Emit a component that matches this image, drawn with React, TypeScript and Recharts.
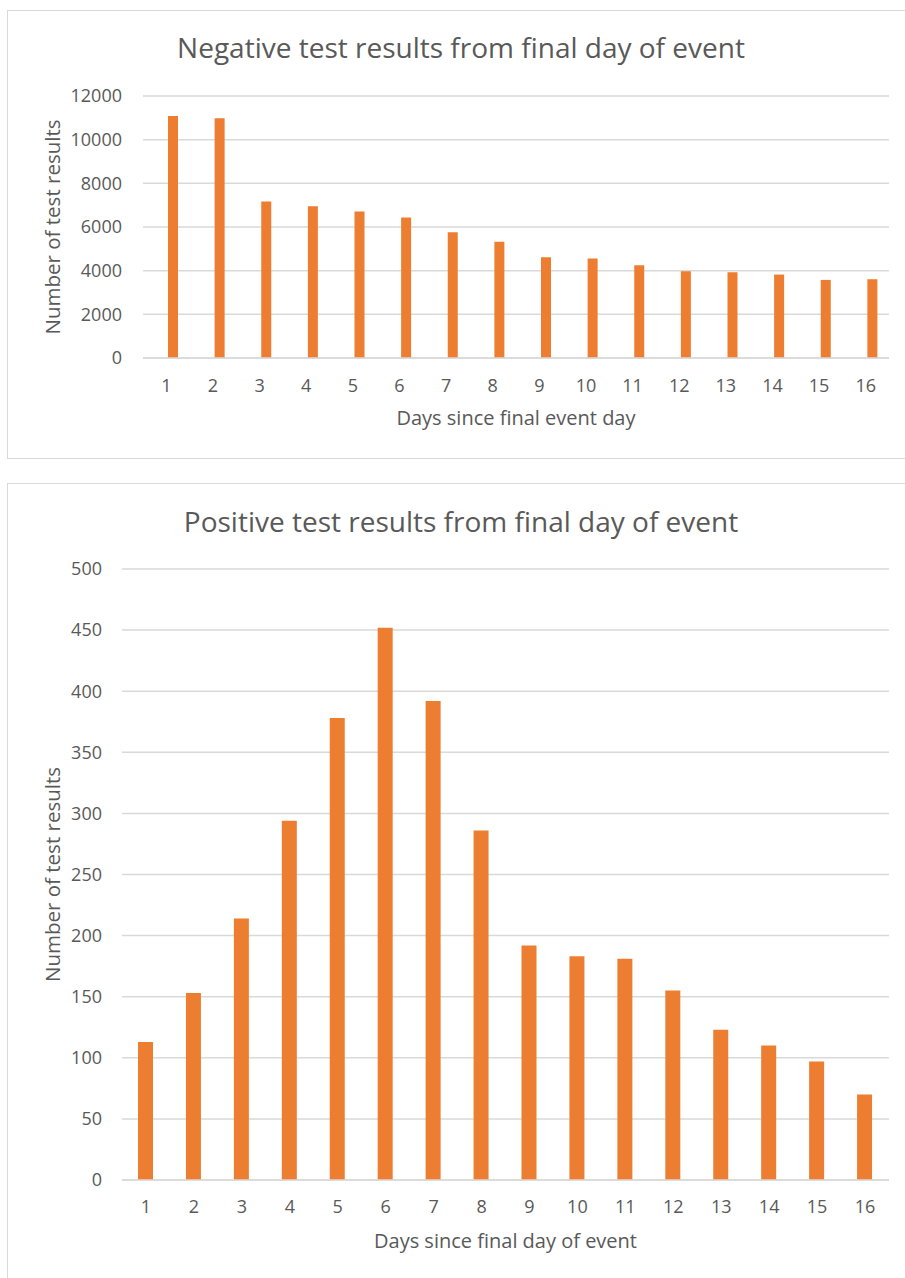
import React from 'react';
import { BarChart, Bar, XAxis, YAxis, CartesianGrid } from 'recharts';

const days = ['1','2','3','4','5','6','7','8','9','10','11','12','13','14','15','16'];
const negativeResults = [11083, 10976, 7169, 6955, 6711, 6436, 5763, 5320, 4617, 4555, 4250, 3975, 3929, 3822, 3577, 3608];
const positiveResults = [113, 153, 214, 294, 378, 452, 392, 286, 192, 183, 181, 155, 123, 110, 97, 70];
const negativeTicks = [0, 2000, 4000, 6000, 8000, 10000, 12000];
const positiveTicks = [0, 50, 100, 150, 200, 250, 300, 350, 400, 450, 500];

const negTitle = 'Negative test results from final day of event';
const posTitle = 'Positive test results from final day of event';
const negXTitle = 'Days since final event day';
const posXTitle = 'Days since final day of event';
const yTitle = 'Number of test results';

const negData = days.map((d, i) => ({ day: d, pad: null, value: negativeResults[i] }));
const posData = days.map((d, i) => ({ day: d, value: positiveResults[i] }));

const FONT = '"Open Sans", sans-serif';
const TEXT = '#595959';
const GRID = '#d9d9d9';
const ORANGE = '#ED7D31';

const tickStyle = { fill: TEXT, fontSize: 18, fontFamily: FONT };

const XTitle = (text: string, dy: number) => (props: any) => {
  const vb = props.viewBox;
  return (
    <text x={vb.x + vb.width / 2} y={vb.y + dy} textAnchor="middle" fill={TEXT} fontSize={20} fontFamily={FONT}>
      {text}
    </text>
  );
};

const YTitle = (cx: number) => (props: any) => {
  const vb = props.viewBox;
  const cy = vb.y + vb.height / 2;
  return (
    <text x={cx} y={cy} textAnchor="middle" dominantBaseline="central" transform={`rotate(-90 ${cx} ${cy})`} fill={TEXT} fontSize={20.5} fontFamily={FONT}>
      {yTitle}
    </text>
  );
};

export default function App() {
  return (
    <div style={{ position: 'absolute', left: 0, top: 0, width: 905, height: 1278, background: '#fff', overflow: 'hidden' }}>
      <div style={{ position: 'absolute', left: 7, top: 10, width: 920, height: 449, border: `1.5px solid ${GRID}`, boxSizing: 'border-box' }} />
      <div style={{ position: 'absolute', left: 7, top: 483, width: 920, height: 820, border: `1.5px solid ${GRID}`, boxSizing: 'border-box' }} />

      <div style={{ position: 'absolute', left: 0, top: 0 }}>
        <svg width={905} height={80} style={{ position: 'absolute', left: 0, top: 0 }}>
          <text x={461} y={58} textAnchor="middle" fill={TEXT} fontSize={28} fontFamily={FONT}>{negTitle}</text>
        </svg>
        <BarChart width={905} height={470} data={negData} margin={{ top: 96, right: 16, bottom: 0, left: 0 }} barGap={3}>
          <CartesianGrid vertical={false} stroke={GRID} strokeWidth={1.5} />
          <XAxis dataKey="day" height={112} tickLine={false} tickSize={0} tickMargin={21} axisLine={{ stroke: GRID, strokeWidth: 1.5 }} tick={tickStyle} interval={0} label={XTitle(negXTitle, 67)} />
          <YAxis width={143} domain={[0, 12000]} ticks={negativeTicks} tickLine={false} tickSize={0} tickMargin={21} axisLine={false} tick={tickStyle} label={YTitle(52)} />
          <Bar dataKey="pad" barSize={10} fill={ORANGE} isAnimationActive={false} />
          <Bar dataKey="value" barSize={10} fill={ORANGE} isAnimationActive={false} />
        </BarChart>
      </div>

      <div style={{ position: 'absolute', left: 0, top: 483 }}>
        <svg width={905} height={80} style={{ position: 'absolute', left: 0, top: 0 }}>
          <text x={461} y={49} textAnchor="middle" fill={TEXT} fontSize={28} fontFamily={FONT}>{posTitle}</text>
        </svg>
        <BarChart width={905} height={795} data={posData} margin={{ top: 86, right: 16, bottom: 0, left: 0 }}>
          <CartesianGrid vertical={false} stroke={GRID} strokeWidth={1.5} />
          <XAxis dataKey="day" height={98} tickLine={false} tickSize={0} tickMargin={20} axisLine={{ stroke: GRID, strokeWidth: 1.5 }} tick={tickStyle} interval={0} label={XTitle(posXTitle, 68)} />
          <YAxis width={122} domain={[0, 500]} ticks={positiveTicks} tickLine={false} tickSize={0} tickMargin={20} axisLine={false} tick={tickStyle} label={YTitle(52)} />
          <Bar dataKey="value" barSize={15} fill={ORANGE} isAnimationActive={false} />
        </BarChart>
      </div>
    </div>
  );
}
